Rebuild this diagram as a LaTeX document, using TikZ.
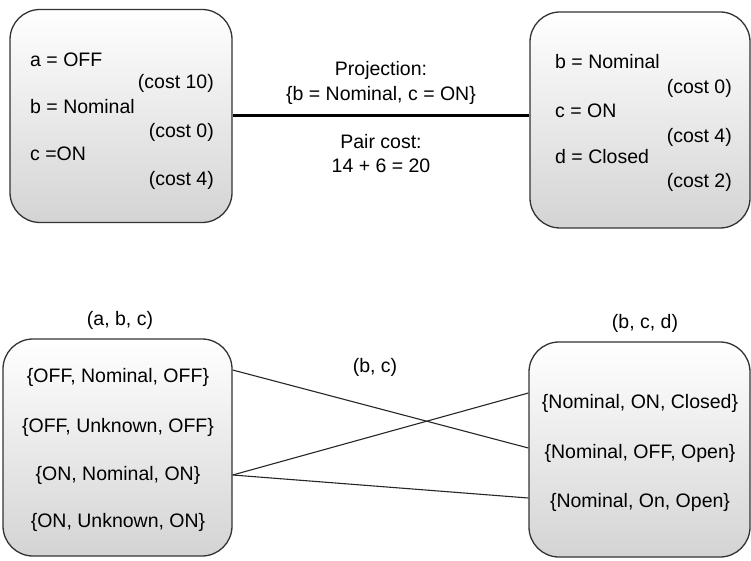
\documentclass[tikz,border=0pt]{standalone}
\usepackage{fontspec}
\setmainfont{Liberation Sans}
\begin{document}
\begin{tikzpicture}[x=1pt,y=-1pt,
  box/.style={draw=black!80,line width=1.3pt,rounded corners=30pt,shade,top color=white,bottom color=black!17,inner sep=0pt},
  txt/.style={font=\fontsize{19.5}{22}\selectfont,inner sep=0pt},
  lbl/.style={txt,anchor=west},
  cst/.style={txt,anchor=east},
  thin/.style={line width=1.1pt,black!85},
  thick/.style={line width=3pt,black}]
\useasboundingbox (0,0) rectangle (751,561);
% top boxes
\node[box,minimum width=222pt,minimum height=213pt] (tl) at (121,116) {};
\node[box,minimum width=220pt,minimum height=216pt] (tr) at (640,120) {};
\node[lbl] (ta) at (30,60) {a = OFF};
\node[cst] (tac) at (214,83) {(cost 10)};
\node[lbl] (tb) at (30,107) {b = Nominal};
\node[cst] (tbc) at (214,132) {(cost 0)};
\node[lbl] (tc) at (30,154) {c =ON};
\node[cst] (tcc) at (214,180) {(cost 4)};
\node[lbl] (rb) at (555,62) {b = Nominal};
\node[cst] (rbc) at (732,88) {(cost 0)};
\node[lbl] (rc) at (555,111) {c = ON};
\node[cst] (rcc) at (732,137) {(cost 4)};
\node[lbl] (rd) at (555,157) {d = Closed};
\node[cst] (rdc) at (732,182) {(cost 2)};
\draw[thick] (tl.east) -- (tl.east -| tr.west);
\node[txt] (p1) at (381,70) {Projection:};
\node[txt] (p2) at (381,95) {\{b = Nominal, c = ON\}};
\node[txt] (p3) at (381,142) {Pair cost:};
\node[txt] (p4) at (381,166) {14 + 6 = 20};
% bottom boxes
\node[box,minimum width=229pt,minimum height=217pt] (bl) at (117.5,447.5) {};
\node[box,minimum width=221pt,minimum height=215pt] (br) at (639.5,449.5) {};
\node[txt] (hl) at (120,320) {(a, b, c)};
\node[txt] (hr) at (645,323) {(b, c, d)};
\node[txt] (hm) at (375,367) {(b, c)};
\node[txt] (l1) at (118,377) {\{OFF, Nominal, OFF\}};
\node[txt] (l2) at (118,427) {\{OFF, Unknown, OFF\}};
\node[txt] (l3) at (118,475) {\{ON, Nominal, ON\}};
\node[txt] (l4) at (118,522) {\{ON, Unknown, ON\}};
\node[txt] (r1) at (640,403) {\{Nominal, ON, Closed\}};
\node[txt] (r2) at (640,453) {\{Nominal, OFF, Open\}};
\node[txt] (r3) at (640,502) {\{Nominal, On, Open\}};
\coordinate (a1) at (bl.east |- 0,370);
\coordinate (a3) at (bl.east |- 0,475);
\coordinate (b1) at (br.west |- 0,393);
\coordinate (b2) at (br.west |- 0,448);
\coordinate (b3) at (br.west |- 0,498);
\draw[thin] (a1) -- (b2);
\draw[thin] (a3) -- (b1);
\draw[thin] (a3) -- (b3);
\end{tikzpicture}
\end{document}
